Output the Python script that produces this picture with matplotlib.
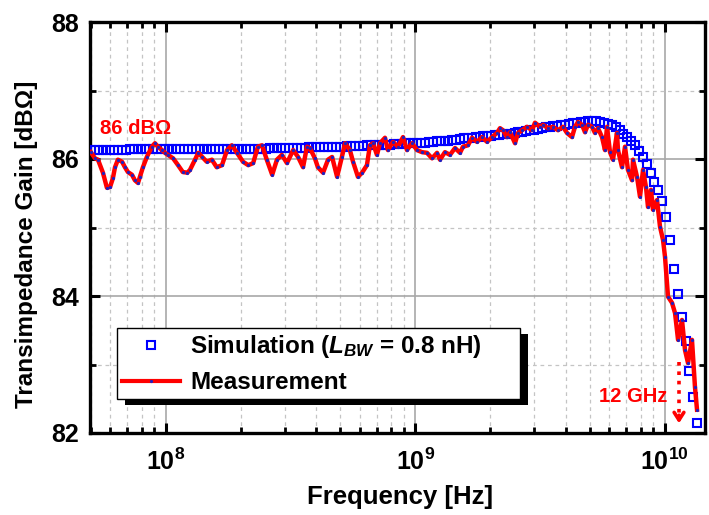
import numpy as np
import matplotlib
matplotlib.use('Agg')
import matplotlib.pyplot as plt
from matplotlib.patches import Rectangle
from matplotlib.transforms import IdentityTransform
from matplotlib.ticker import FixedLocator, FixedFormatter, NullFormatter

plt.rcParams['font.family'] = ['Liberation Sans', 'DejaVu Sans']
plt.rcParams['font.weight'] = 'bold'
plt.rcParams['mathtext.fontset'] = 'custom'
plt.rcParams['mathtext.rm'] = 'Liberation Sans:bold'
plt.rcParams['mathtext.it'] = 'Liberation Sans:bold:italic'
plt.rcParams['mathtext.bf'] = 'Liberation Sans:bold'

# ---------------- data ----------------
sim_f_start = 5.01e7
sim_f_stop = 1.349e10
sim_gain = [
    86.13, 86.13, 86.13, 86.13, 86.13, 86.13, 86.13, 86.13, 86.13, 86.13,
    86.14, 86.14, 86.14, 86.14, 86.14, 86.14, 86.14, 86.14, 86.14, 86.14,
    86.14, 86.14, 86.14, 86.14, 86.14, 86.14, 86.14, 86.14, 86.14, 86.14,
    86.14, 86.15, 86.15, 86.15, 86.15, 86.15, 86.15, 86.15, 86.15, 86.15,
    86.15, 86.15, 86.15, 86.15, 86.15, 86.15, 86.16, 86.16, 86.16, 86.16,
    86.16, 86.16, 86.16, 86.16, 86.16, 86.16, 86.17, 86.17, 86.17, 86.17,
    86.17, 86.18, 86.18, 86.18, 86.18, 86.18, 86.19, 86.19, 86.19, 86.19,
    86.19, 86.20, 86.20, 86.20, 86.21, 86.21, 86.21, 86.21, 86.22, 86.22,
    86.22, 86.23, 86.23, 86.23,
    86.23, 86.24, 86.24, 86.25, 86.25, 86.26, 86.26, 86.27, 86.27, 86.28,
    86.28, 86.29, 86.30,
    86.31, 86.31, 86.32, 86.32, 86.33, 86.34, 86.34, 86.35, 86.35, 86.36,
    86.37, 86.37, 86.38,
    86.39, 86.40, 86.41, 86.42, 86.43, 86.44,
    86.45, 86.46, 86.47, 86.48, 86.48, 86.49, 86.50,
    86.51, 86.52, 86.53, 86.54, 86.54, 86.55,
    86.55, 86.55, 86.54, 86.53, 86.51, 86.49, 86.46, 86.42, 86.37, 86.32,
    86.27, 86.20, 86.12, 86.03, 85.92, 85.80, 85.67, 85.55, 85.39, 85.16,
    84.82, 84.40, 84.03, 83.70, 83.35, 82.90, 82.52, 82.15,
]
sim_freq = np.logspace(np.log10(sim_f_start), np.log10(sim_f_stop), len(sim_gain))

meas_freq_mhz = [
    50.1, 52.0, 53.5, 56.0, 58.1, 59.8, 61.4, 62.6, 64.3, 66.8,
    68.6, 70.5, 73.2, 75.2, 77.4, 78.8, 81.0, 84.0, 88.0, 90.5,
    93.0, 96.6, 99.3, 102, 107, 112, 117, 122, 125, 131,
    135, 140, 146, 153, 160, 168, 176, 184, 193, 204,
    214, 224, 234, 243, 254, 267, 279, 292, 306, 324,
    339, 355, 368, 378, 396, 407, 427, 447, 464, 486,
    508, 523, 547, 563, 589, 612, 640, 658, 677, 702,
    722, 756, 777, 814, 852, 893, 926, 970, 1016, 1064,
    1114, 1167, 1222, 1256, 1315, 1377, 1443, 1511, 1553, 1626,
    1688, 1767, 1851, 1939, 2030, 2126, 2185, 2247, 2331, 2397,
    2510, 2580, 2677, 2803, 2936, 3018, 3161, 3250, 3403, 3564,
    3732, 3908, 4055, 4247, 4366, 4488, 4657, 4788, 4922, 5107,
    5250, 5398, 5601, 5758, 5865, 6030, 6199, 6432, 6492, 6737,
    6926, 7120, 7388, 7456, 7737, 7954, 8177, 8406, 8563, 8803,
    8967, 9305, 9568, 9835, 10020, 10300, 10690, 10990, 11300, 11720,
    12050, 12390, 12850, 13210, 13460,
]
meas_gain = [
    86.10, 86.01, 85.99, 85.80, 85.58, 85.59, 85.72, 85.88, 85.99, 85.96,
    85.88, 85.81, 85.77, 85.69, 85.65, 85.74, 85.88, 86.03, 86.18, 86.23,
    86.18, 86.13, 86.09, 86.06, 86.01, 85.91, 85.81, 85.80, 85.84, 85.99,
    86.09, 86.03, 85.96, 85.99, 85.88, 85.91, 86.13, 86.20, 86.09, 85.96,
    85.91, 85.94, 86.18, 86.20, 85.99, 85.77, 85.99, 86.06, 85.94, 86.13,
    86.03, 85.88, 86.18, 86.16, 86.01, 85.88, 85.80, 85.99, 86.03, 85.74,
    86.03, 86.23, 86.13, 85.96, 85.74, 85.80, 85.91, 86.20, 86.23, 86.06,
    86.23, 86.31, 86.13, 86.25, 86.18, 86.32, 86.13, 86.23, 86.13, 86.10,
    86.09, 86.01, 86.09, 85.99, 86.10, 86.06, 86.16, 86.09, 86.18, 86.20,
    86.31, 86.25, 86.32, 86.25, 86.32, 86.38, 86.45, 86.42, 86.32, 86.39,
    86.23, 86.38, 86.42, 86.47, 86.42, 86.53, 86.47, 86.50, 86.45, 86.47,
    86.42, 86.47, 86.38, 86.32, 86.47, 86.54, 86.50, 86.39, 86.50, 86.47,
    86.38, 86.45, 86.32, 86.13, 86.47, 86.10, 85.99, 86.38, 86.13, 85.88,
    86.18, 85.84, 85.69, 85.99, 85.74, 85.45, 85.84, 85.59, 85.30, 85.55,
    85.26, 85.40, 85.01, 84.82, 84.57, 83.99, 83.90, 83.75, 83.36, 83.65,
    83.21, 83.02, 83.36, 82.67, 82.34,
]
meas_freq = np.array(meas_freq_mhz) * 1e6

x_major = [1e8, 1e9, 1e10]
x_major_labels = [r'$\mathbf{10^{8}}$', r'$\mathbf{10^{9}}$', r'$\mathbf{10^{10}}$']
y_major = [82, 84, 86, 88]
y_minor = [83, 85, 87]

label_86 = '86 dBΩ'
label_86_pos = (5.45e7, 86.44)
label_12 = '12 GHz'
label_12_pos = (1.02e10, 82.53)
arrow_freq = 1.14e10
arrow_top = 83.04
arrow_tip = 82.10

# ---------------- figure ----------------
fig = plt.figure(figsize=(7.09, 5.15), dpi=100)
ax = fig.add_axes([90/709, 82/515, 615/709, 411/515])

ax.set_xscale('log')
ax.set_xlim(4.97e7, 1.449e10)
ax.set_ylim(82, 88)

ax.plot(sim_freq, sim_gain, ls='none', marker='s', ms=6.0, mfc='none',
        mec='#0000ff', mew=1.5, zorder=3,
        label=r'Simulation ($L_{BW}$ = 0.8 nH)')
ax.plot(meas_freq, meas_gain, color='#ff0000', lw=3.2, marker='o', ms=1.3,
        mfc='#2020c0', mec='#2020c0', zorder=4, label='Measurement')

# grid
ax.set_axisbelow(True)
minor_x = []
for dec in [1e7, 1e8, 1e9, 1e10]:
    for k in range(2, 10):
        minor_x.append(k * dec)
ax.xaxis.set_major_locator(FixedLocator(x_major))
ax.xaxis.set_major_formatter(FixedFormatter(x_major_labels))
ax.xaxis.set_minor_locator(FixedLocator(minor_x))
ax.xaxis.set_minor_formatter(NullFormatter())
ax.yaxis.set_major_locator(FixedLocator(y_major))
ax.yaxis.set_minor_locator(FixedLocator(y_minor))
ax.grid(which='major', color='#a8a8a8', lw=1.2, ls='-')
ax.grid(which='minor', color='#c4c4c4', lw=0.9, ls=(0, (3, 3)))

for sp in ax.spines.values():
    sp.set_linewidth(2.4)
    sp.set_color('black')

ax.tick_params(which='both', direction='in', top=True, right=True, color='black')
ax.tick_params(which='major', length=7, width=2.2, labelsize=18, pad=8)
ax.tick_params(which='minor', length=4.5, width=2.0)
ax.tick_params(axis='x', which='major', pad=11)
for lab in ax.get_yticklabels():
    lab.set_fontweight('bold')

fig.text(27/709, 1 - 244/515, 'Transimpedance Gain [dBΩ]', rotation=90,
         ha='center', va='center', fontsize=17.5, fontweight='bold')
fig.text(400/709, 1 - 497/515, 'Frequency [Hz]', ha='center', va='center',
         fontsize=18.5, fontweight='bold')

ax.text(label_86_pos[0], label_86_pos[1], label_86, color='#ff0000',
        fontsize=14.5, fontweight='bold', ha='left', va='center', zorder=6)
ax.text(label_12_pos[0], label_12_pos[1], label_12, color='#ff0000',
        fontsize=14.5, fontweight='bold', ha='right', va='center', zorder=6)
ax.plot([arrow_freq, arrow_freq], [arrow_top, arrow_tip + 0.12], color='#ff0000',
        lw=2.6, ls=(0, (1, 1.6)), zorder=6)
ax.annotate('', xy=(arrow_freq, arrow_tip), xytext=(arrow_freq, arrow_tip + 0.2),
            arrowprops=dict(arrowstyle='->,head_length=0.55,head_width=0.35',
                            color='#ff0000', lw=2.6), zorder=6)

leg = ax.legend(loc='lower left', bbox_to_anchor=(0.044, 0.083, 0.655, 0.17),
                mode='expand', fontsize=17.5, frameon=True, fancybox=False,
                edgecolor='black', facecolor='white', framealpha=1,
                borderpad=0.2, labelspacing=0.45, handlelength=2.4,
                handletextpad=0.4, borderaxespad=0)
leg.get_frame().set_linewidth(1.0)
leg.set_zorder(8)
for h in leg.legend_handles:
    h.set_linewidth(3.0) if hasattr(h, 'set_linewidth') else None

fig.canvas.draw()
bb = leg.get_window_extent(fig.canvas.get_renderer())
shadow = Rectangle((bb.x0 + 8, bb.y0 - 6), bb.width, bb.height,
                   transform=IdentityTransform(), facecolor='black',
                   edgecolor='none', zorder=7.9, clip_on=False)
ax.add_artist(shadow)

fig.savefig('out.png', dpi=100)
